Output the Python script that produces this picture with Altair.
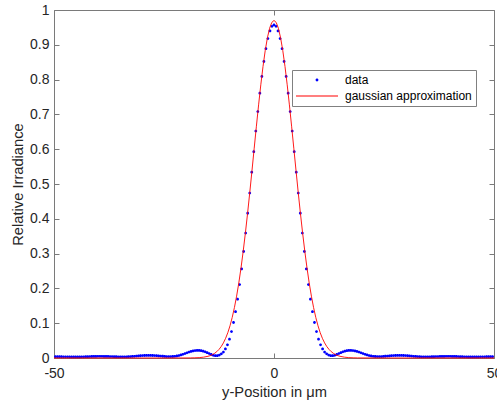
import altair as alt
import pandas as pd

# ---------------- data ----------------
SAMPLE_STEP = 0.46  # spacing of the measured samples in micrometres

# measured irradiance, left half (x = -49.68 ... -0.46)
y_left = [
    0.0038, 0.0037, 0.0037, 0.0036, 0.0035, 0.0034, 0.0033, 0.0032, 0.0031,
    0.0031, 0.0031, 0.0031, 0.0032, 0.0033, 0.0035, 0.0037, 0.0039, 0.0041, 0.0043,
    0.0045, 0.0046, 0.0047, 0.0047, 0.0047, 0.0046, 0.0045, 0.0044, 0.0042, 0.0040,
    0.0038, 0.0036, 0.0034, 0.0033, 0.0033, 0.0033, 0.0035, 0.0037, 0.0040, 0.0044,
    0.0049, 0.0054, 0.0059, 0.0064, 0.0069, 0.0072, 0.0074, 0.0075, 0.0074, 0.0072,
    0.0070, 0.0066, 0.0061, 0.0056, 0.0050, 0.0045, 0.0042, 0.0040, 0.0040, 0.0043,
    0.0049, 0.0058, 0.0071, 0.0087, 0.0106, 0.0128, 0.0150, 0.0170, 0.0188, 0.0204,
    0.0213, 0.0218, 0.0218, 0.0210, 0.0197, 0.0177, 0.0152, 0.0126, 0.0100, 0.0078,
    0.0066, 0.0068, 0.0085, 0.012, 0.017, 0.026, 0.038, 0.054, 0.076, 0.102,
    0.133, 0.169, 0.211, 0.256, 0.306, 0.359, 0.416, 0.474, 0.534, 0.593,
    0.652, 0.708, 0.761, 0.809, 0.852, 0.889, 0.918, 0.940, 0.953,
]
# measured irradiance, centre and right half (x = 0 ... 49.68)
y_right = [
    0.957, 0.953, 0.940, 0.918, 0.889, 0.852, 0.809, 0.761, 0.708, 0.652,
    0.593, 0.534, 0.474, 0.416, 0.359, 0.306, 0.256, 0.211, 0.169, 0.133,
    0.102, 0.076, 0.054, 0.038, 0.026, 0.017, 0.012, 0.0085, 0.0068, 0.0066,
    0.0078, 0.0100, 0.0126, 0.0152, 0.0177, 0.0197, 0.0210, 0.0218, 0.0218, 0.0213,
    0.0204, 0.0188, 0.0170, 0.0150, 0.0128, 0.0106, 0.0087, 0.0071, 0.0058, 0.0049,
    0.0043, 0.0040, 0.0040, 0.0042, 0.0045, 0.0050, 0.0056, 0.0061, 0.0066, 0.0070,
    0.0072, 0.0074, 0.0075, 0.0074, 0.0072, 0.0069, 0.0064, 0.0059, 0.0054, 0.0049,
    0.0044, 0.0040, 0.0037, 0.0035, 0.0033, 0.0033, 0.0033, 0.0034, 0.0036, 0.0038,
    0.0040, 0.0042, 0.0044, 0.0045, 0.0046, 0.0047, 0.0047, 0.0047, 0.0046, 0.0045,
    0.0043, 0.0041, 0.0039, 0.0037, 0.0035, 0.0033, 0.0032, 0.0031, 0.0031, 0.0031,
    0.0031, 0.0032, 0.0033, 0.0034, 0.0035, 0.0036, 0.0037, 0.0037, 0.0038,
]

# gaussian approximation curve
gauss_x = [
    -50, -40, -30, -25, -20, -19, -18, -17, -16, -15, -14.5, -14, -13.5, -13,
    -12.5, -12, -11.5, -11, -10.5, -10, -9.5, -9, -8.5, -8, -7.5, -7, -6.5, -6,
    -5.5, -5, -4.5, -4, -3.5, -3, -2.5, -2, -1.5, -1, -0.5, 0,
    0.5, 1, 1.5, 2, 2.5, 3, 3.5, 4, 4.5, 5, 5.5, 6, 6.5, 7, 7.5, 8, 8.5, 9,
    9.5, 10, 10.5, 11, 11.5, 12, 12.5, 13, 13.5, 14, 14.5, 15, 16, 17, 18, 19,
    20, 25, 30, 40, 50,
]
gauss_y = [
    0, 0, 0, 0, 0.0001, 0.0002, 0.0005, 0.0011, 0.0024, 0.0049, 0.0069, 0.0097,
    0.0134, 0.0183, 0.0247, 0.0329, 0.0434, 0.0565, 0.0727, 0.0925, 0.1164,
    0.1447, 0.1777, 0.2156, 0.2587, 0.3067, 0.3595, 0.4163, 0.4765, 0.5391,
    0.6028, 0.6661, 0.7274, 0.7851, 0.8375, 0.8830, 0.9200, 0.9475, 0.9643, 0.970,
    0.9643, 0.9475, 0.9200, 0.8830, 0.8375, 0.7851, 0.7274, 0.6661, 0.6028,
    0.5391, 0.4765, 0.4163, 0.3595, 0.3067, 0.2587, 0.2156, 0.1777, 0.1447,
    0.1164, 0.0925, 0.0727, 0.0565, 0.0434, 0.0329, 0.0247, 0.0183, 0.0134,
    0.0097, 0.0069, 0.0049, 0.0024, 0.0011, 0.0005, 0.0002, 0.0001, 0, 0, 0, 0,
]

x_ticks = [-50, 0, 50]
y_ticks = [0, 0.1, 0.2, 0.3, 0.4, 0.5, 0.6, 0.7, 0.8, 0.9, 1]
series_names = ["data", "gaussian approximation"]
series_colors = ["#0000ff", "#ff0000"]

data_y = y_left + y_right
n_half = len(y_left)
data_x = [round(i * SAMPLE_STEP, 2) for i in range(-n_half, len(y_right))]

dots = pd.DataFrame({"x": data_x, "y": data_y, "series": series_names[0]})
gauss = pd.DataFrame({"x": gauss_x, "y": gauss_y})

# ---------------- styling ----------------
FONT = "Liberation Sans"
TXT = "#262626"
LINE_GRAY = "#7a7a7a"

DOT_PATH = "M-0.28,0A0.28,0.28,0,1,0,0.28,0A0.28,0.28,0,1,0,-0.28,0Z"
BAR_PATH = "M-4.2,-0.1L4.2,-0.1L4.2,0.1L-4.2,0.1Z"

xscale = alt.Scale(domain=[-50, 50], nice=False, zero=False)
yscale = alt.Scale(domain=[0, 1], nice=False, zero=False)

common_axis = dict(
    offset=-5, tickSize=5, domain=False, grid=False, tickColor=LINE_GRAY,
    tickWidth=1, labelFont=FONT, labelColor=TXT, titleFont=FONT,
    titleColor=TXT, titleFontWeight="normal", labelFlush=False,
    labelOverlap=False,
)

legend = alt.Legend(
    title=None, orient="none", legendX=238, legendY=60,
    labelFont=FONT, labelFontSize=12, labelColor="#000000",
    symbolSize=100, symbolStrokeWidth=0, symbolOffset=15, labelOffset=22,
    strokeColor="#808080", fillColor="#ffffff", padding=4, rowPadding=4,
)

points = alt.Chart(dots).mark_point(
    filled=True, size=100, opacity=1, strokeWidth=0
).encode(
    x=alt.X(
        "x:Q", scale=xscale,
        axis=alt.Axis(
            orient="bottom", values=x_ticks, labelExpr="'' + datum.value",
            labelFontSize=14, labelPadding=8, title="y-Position in μm",
            titleFontSize=14.7, titlePadding=4, **common_axis,
        ),
    ),
    y=alt.Y(
        "y:Q", scale=yscale,
        axis=alt.Axis(
            orient="left", values=y_ticks, format="~g", labelFontSize=14,
            labelPadding=5, title="Relative Irradiance", titleFontSize=14.7,
            titlePadding=4, **common_axis,
        ),
    ),
    color=alt.Color(
        "series:N", scale=alt.Scale(domain=series_names, range=series_colors),
        legend=legend,
    ),
    shape=alt.Shape(
        "series:N", scale=alt.Scale(domain=series_names, range=[DOT_PATH, BAR_PATH]),
        legend=legend,
    ),
)

line = alt.Chart(gauss).mark_line(color="#ff0000", strokeWidth=0.9).encode(
    x=alt.X(
        "x:Q", scale=xscale,
        axis=alt.Axis(orient="top", values=x_ticks, labels=False, title="", **common_axis),
    ),
    y=alt.Y(
        "y:Q", scale=yscale,
        axis=alt.Axis(orient="right", values=y_ticks, labels=False, title="", **common_axis),
    ),
)

chart = (
    alt.layer(points, line)
    .resolve_axis(x="independent", y="independent")
    .properties(
        width=440, height=348,
        padding={"left": 54, "top": 10, "right": 3, "bottom": 47},
        autosize=alt.AutoSizeParams(type="none"),
        background="#ffffff",
    )
    .configure_view(stroke=LINE_GRAY, strokeWidth=1)
)

chart.save("out.html", embed_options={"renderer": "svg", "actions": False})
